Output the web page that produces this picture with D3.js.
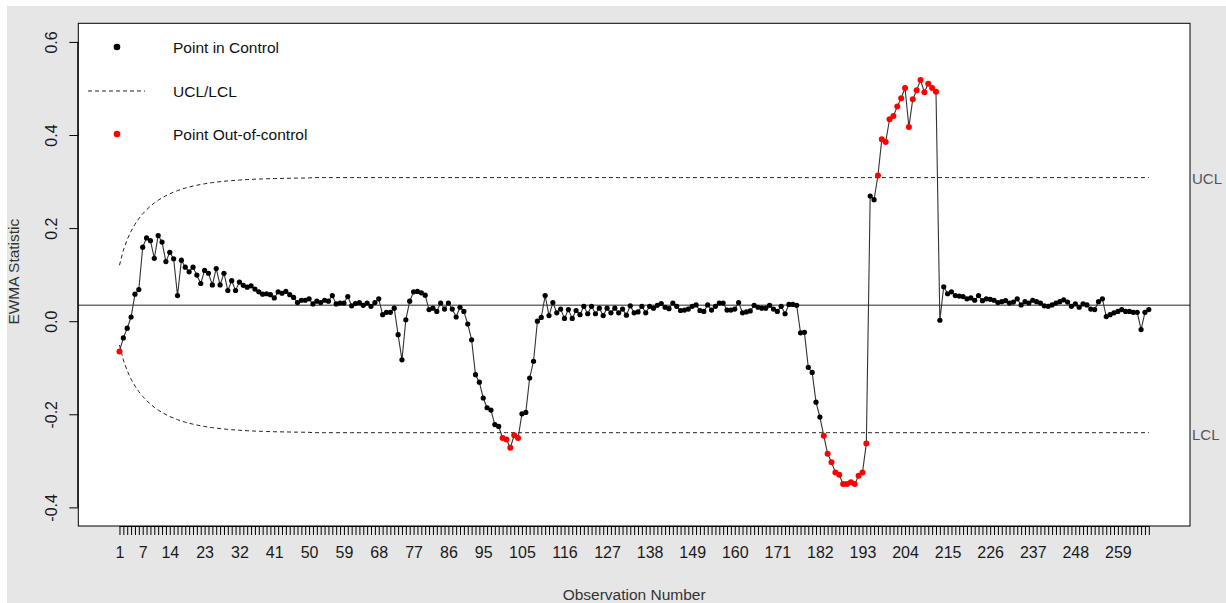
<!DOCTYPE html>
<html>
<head>
<meta charset="utf-8">
<script src="https://cdn.jsdelivr.net/npm/d3@7/dist/d3.min.js"></script>
<style>
  body { margin: 0; background: #ffffff; }
  svg { display: block; }
  text { font-family: Arial, "Liberation Sans", sans-serif; }
</style>
</head>
<body>
<svg id="chart" width="1226" height="603"></svg>
<script>
// EWMA statistic for each observation (1..267)
const ewma = [
  -0.065, -0.036, -0.015, 0.009, 0.058, 0.068, 0.159, 0.179, 0.173, 0.135,
  0.184, 0.170, 0.128, 0.148, 0.134, 0.055, 0.131, 0.116, 0.106, 0.116,
  0.099, 0.081, 0.109, 0.103, 0.078, 0.113, 0.078, 0.103, 0.066, 0.087,
  0.066, 0.084, 0.077, 0.073, 0.076, 0.069, 0.063, 0.058, 0.059, 0.057,
  0.050, 0.063, 0.060, 0.064, 0.057, 0.051, 0.040, 0.045, 0.045, 0.048,
  0.037, 0.043, 0.040, 0.045, 0.043, 0.055, 0.037, 0.039, 0.039, 0.053,
  0.033, 0.038, 0.040, 0.034, 0.039, 0.032, 0.040, 0.048, 0.014, 0.019,
  0.019, 0.028, -0.029, -0.083, 0.003, 0.043, 0.063, 0.064, 0.061, 0.056,
  0.025, 0.028, 0.021, 0.039, 0.026, 0.039, 0.026, 0.009, 0.030, 0.021,
  -0.006, -0.040, -0.115, -0.131, -0.165, -0.186, -0.191, -0.222, -0.226, -0.251,
  -0.254, -0.272, -0.245, -0.251, -0.199, -0.196, -0.122, -0.086, 0.000, 0.008,
  0.055, 0.012, 0.040, 0.018, 0.026, 0.006, 0.025, 0.006, 0.023, 0.014,
  0.032, 0.016, 0.032, 0.016, 0.028, 0.012, 0.028, 0.018, 0.028, 0.018,
  0.026, 0.013, 0.033, 0.018, 0.020, 0.032, 0.018, 0.032, 0.028, 0.034,
  0.038, 0.030, 0.027, 0.039, 0.032, 0.023, 0.024, 0.026, 0.032, 0.035,
  0.023, 0.021, 0.035, 0.024, 0.032, 0.039, 0.039, 0.024, 0.024, 0.026,
  0.040, 0.018, 0.020, 0.022, 0.034, 0.030, 0.028, 0.028, 0.034, 0.026,
  0.021, 0.032, 0.016, 0.036, 0.036, 0.034, -0.025, -0.024, -0.099, -0.110,
  -0.174, -0.206, -0.246, -0.285, -0.303, -0.325, -0.330, -0.350, -0.350, -0.346,
  -0.350, -0.332, -0.325, -0.263, 0.269, 0.261, 0.313, 0.391, 0.385, 0.434,
  0.441, 0.461, 0.479, 0.501, 0.417, 0.477, 0.496, 0.518, 0.492, 0.510,
  0.501, 0.493, 0.002, 0.074, 0.059, 0.063, 0.055, 0.054, 0.053, 0.048,
  0.050, 0.045, 0.055, 0.044, 0.048, 0.047, 0.045, 0.040, 0.042, 0.044,
  0.039, 0.041, 0.048, 0.035, 0.042, 0.039, 0.045, 0.042, 0.039, 0.033,
  0.032, 0.035, 0.039, 0.042, 0.046, 0.041, 0.032, 0.037, 0.030, 0.037,
  0.035, 0.026, 0.025, 0.042, 0.048, 0.010, 0.014, 0.018, 0.021, 0.025,
  0.021, 0.021, 0.019, 0.019, -0.018, 0.019, 0.025
];

// Centre line of the chart
const centerLine = 0.0345;

// Distance from the centre line to UCL / LCL for the first observations
const limitHalfWidth = [
  0.0856, 0.1180, 0.1410, 0.1590, 0.1736, 0.1858, 0.1961, 0.2050, 0.2127, 0.2195,
  0.2254, 0.2306, 0.2351, 0.2392, 0.2428, 0.2460, 0.2489, 0.2515, 0.2537, 0.2558,
  0.2576, 0.2593, 0.2607, 0.2621, 0.2632, 0.2643, 0.2653, 0.2661, 0.2669, 0.2676,
  0.2682, 0.2688, 0.2693, 0.2698, 0.2702, 0.2706, 0.2709, 0.2712, 0.2715, 0.2717,
  0.2720, 0.2722, 0.2723, 0.2725, 0.2726, 0.2728, 0.2729, 0.2730, 0.2731, 0.2732
];
// Distance once the limits have settled
const limitHalfWidthSteady = 0.274;

const yTicks = [-0.4, -0.2, 0.0, 0.2, 0.4, 0.6];
const xTickLabels = [1, 7, 14, 23, 32, 41, 50, 59, 68, 77, 86, 95, 105, 116, 127,
                     138, 149, 160, 171, 182, 193, 204, 215, 226, 237, 248, 259];
const legendLabels = ["Point in Control", "UCL/LCL", "Point Out-of-control"];
const limitLabels = ["UCL", "LCL"];

// ---- layout ----
const W = 1226, H = 603;
const plot = { left: 78.3, right: 1190, top: 23.3, bottom: 526 };
const n = ewma.length;
const obs = d3.range(1, n + 1);

const svg = d3.select("#chart");

// outer grey background
svg.append("rect").attr("x", 7).attr("y", 6).attr("width", W - 7).attr("height", H - 6)
  .attr("fill", "#e6e6e6");

// plot panel
svg.append("rect")
  .attr("x", plot.left).attr("y", plot.top)
  .attr("width", plot.right - plot.left).attr("height", plot.bottom - plot.top)
  .attr("fill", "#ffffff");

const xPad = 0.04 * (n - 1);
const x = d3.scaleLinear().domain([1 - xPad, n + xPad]).range([plot.left, plot.right]);
const y = d3.scaleLinear().domain([-0.44, 0.64]).range([plot.bottom, plot.top]);

const halfWidth = i => (i - 1 < limitHalfWidth.length ? limitHalfWidth[i - 1] : limitHalfWidthSteady);
const ucl = obs.map(i => centerLine + halfWidth(i));
const lcl = obs.map(i => centerLine - halfWidth(i));

// ---- axes ----
const xAxis = d3.axisBottom(x)
  .tickValues(obs)
  .tickSize(9)
  .tickPadding(4)
  .tickFormat(d => (xTickLabels.includes(d) ? String(d) : ""));
const gx = svg.append("g").attr("transform", `translate(0,${plot.bottom})`).call(xAxis);
gx.select(".domain").attr("d", `M${x(1)},0.5H${x(n)}`).attr("stroke", "#000");
gx.selectAll(".tick line").attr("stroke", "#000").attr("stroke-width", 1);
gx.selectAll(".tick text")
  .attr("font-size", 16).attr("fill", "#1a1a1a")
  .attr("font-family", "Arial, 'Liberation Sans', sans-serif")
  .attr("y", 0).attr("dy", null)
  .attr("transform", "translate(0,32)");

const yAxis = d3.axisLeft(y).tickValues(yTicks).tickSize(9).tickFormat(d => d.toFixed(1));
const gy = svg.append("g").attr("transform", `translate(${plot.left},0)`).call(yAxis);
gy.select(".domain").attr("d", `M-0.5,${y(-0.4)}V${y(0.6)}`).attr("stroke", "#000");
gy.selectAll(".tick line").attr("stroke", "#000");
gy.selectAll(".tick text")
  .attr("font-size", 16).attr("fill", "#1a1a1a")
  .attr("font-family", "Arial, 'Liberation Sans', sans-serif")
  .attr("x", 0).attr("dy", null)
  .attr("text-anchor", "middle")
  .attr("dominant-baseline", "central")
  .attr("transform", "translate(-27,0) rotate(-90)");

// axis titles
svg.append("text")
  .attr("x", (plot.left + plot.right) / 2).attr("y", 600)
  .attr("text-anchor", "middle").attr("font-size", 15.5).attr("fill", "#333")
  .text("Observation Number");
svg.append("text")
  .attr("transform", `translate(19,${(plot.top + plot.bottom) / 2 - 3}) rotate(-90)`)
  .attr("text-anchor", "middle").attr("font-size", 15.5).attr("fill", "#333")
  .text("EWMA Statistic");

// ---- centre line ----
svg.append("line")
  .attr("x1", plot.left).attr("x2", plot.right)
  .attr("y1", y(centerLine)).attr("y2", y(centerLine))
  .attr("stroke", "#6e6e6e").attr("stroke-width", 1.5);

// ---- control limits ----
const limitLine = d3.line().x((d, i) => x(i + 1)).y(d => y(d));
[ucl, lcl].forEach(series => {
  svg.append("path").datum(series)
    .attr("d", limitLine)
    .attr("fill", "none").attr("stroke", "#222").attr("stroke-width", 1)
    .attr("stroke-dasharray", "4,3");
});

// limit labels in right margin
svg.append("text").attr("x", 1192).attr("y", y(ucl[n - 1]) + 1)
  .attr("dominant-baseline", "central").attr("font-size", 15).attr("fill", "#555")
  .text(limitLabels[0]);
svg.append("text").attr("x", 1192).attr("y", y(lcl[n - 1]) + 2)
  .attr("dominant-baseline", "central").attr("font-size", 15).attr("fill", "#555")
  .text(limitLabels[1]);

// ---- EWMA series ----
const seriesLine = d3.line().x((d, i) => x(i + 1)).y(d => y(d));
svg.append("path").datum(ewma)
  .attr("d", seriesLine)
  .attr("fill", "none").attr("stroke", "#333").attr("stroke-width", 1.1);

const points = ewma.map((v, i) => ({ i: i + 1, v, out: v > ucl[i] || v < lcl[i] }));
svg.append("g").selectAll("circle")
  .data(points)
  .join("circle")
  .attr("cx", d => x(d.i)).attr("cy", d => y(d.v))
  .attr("r", d => (d.out ? 3.0 : 2.6))
  .attr("fill", d => (d.out ? "#ff0000" : "#000000"));

// ---- legend ----
const lg = svg.append("g");
lg.append("circle").attr("cx", 117).attr("cy", 47).attr("r", 3.3).attr("fill", "#000");
lg.append("line").attr("x1", 88).attr("x2", 145).attr("y1", 91).attr("y2", 91)
  .attr("stroke", "#222").attr("stroke-dasharray", "4,3");
lg.append("circle").attr("cx", 117).attr("cy", 134).attr("r", 3.3).attr("fill", "#ff0000");
[47, 91, 134].forEach((ly, k) => {
  lg.append("text").attr("x", 173).attr("y", ly)
    .attr("dominant-baseline", "central").attr("font-size", 15.5).attr("fill", "#111")
    .text(legendLabels[k]);
});

// panel border on top
svg.append("rect")
  .attr("x", plot.left).attr("y", plot.top)
  .attr("width", plot.right - plot.left).attr("height", plot.bottom - plot.top)
  .attr("fill", "none").attr("stroke", "#000").attr("stroke-width", 1);
</script>
</body>
</html>
